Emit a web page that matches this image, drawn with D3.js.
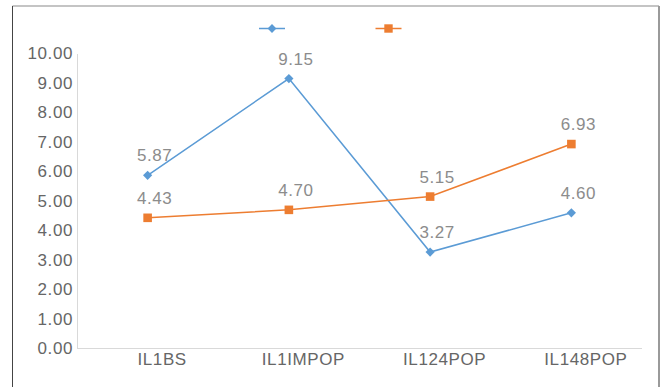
<!DOCTYPE html>
<html>
<head>
<meta charset="utf-8">
<script src="https://cdn.jsdelivr.net/npm/d3@7"></script>
<style>
  html, body { margin: 0; padding: 0; background: #fff; }
  svg { display: block; }
  text { font-family: "Liberation Sans", Arial, sans-serif; }
</style>
</head>
<body>
<svg id="chart" width="661" height="387"></svg>
<script>
// Chart data
const categories = ["IL1BS", "IL1IMPOP", "IL124POP", "IL148POP"];
const seriesA = [5.87, 9.15, 3.27, 4.60];
const seriesB = [4.43, 4.70, 5.15, 6.93];
const yTicks = [0, 1, 2, 3, 4, 5, 6, 7, 8, 9, 10];

const blue = "#5b9bd5";
const orange = "#ed7d31";

const svg = d3.select("#chart");
const W = 661, H = 387;

// Frame around the chart
svg.append("line").attr("x1", 12.5).attr("x2", 659).attr("y1", 6).attr("y2", 6)
  .attr("stroke", "#b0b0b0").attr("stroke-width", 1.5);
svg.append("line").attr("x1", 12.5).attr("x2", 12.5).attr("y1", 6).attr("y2", H)
  .attr("stroke", "#444").attr("stroke-width", 1);
svg.append("line").attr("x1", 659).attr("x2", 659).attr("y1", 6).attr("y2", H)
  .attr("stroke", "#9a9a9a").attr("stroke-width", 2);

// Plot area
const plotLeft = 77, plotRight = 642, plotTop = 53.5, plotBottom = 348.5;

const x = d3.scalePoint().domain(categories).range([plotLeft, plotRight]).padding(0.5);
const y = d3.scaleLinear().domain([0, 10]).range([plotBottom, plotTop]);

const fontSize = 17;

// Y axis
const yAxis = svg.append("g").attr("transform", `translate(${plotLeft},0)`)
  .call(d3.axisLeft(y).tickValues(yTicks).tickFormat(d3.format(".2f")).tickSize(0).tickPadding(4));
yAxis.select(".domain").attr("stroke", "#d9d9d9").attr("stroke-width", 1);
yAxis.selectAll("text").attr("font-size", fontSize).attr("fill", "#666")
  .attr("font-family", "Liberation Sans, Arial, sans-serif")
  .style("letter-spacing", "0.6px");

// X axis
const xAxis = svg.append("g").attr("transform", `translate(0,${plotBottom})`)
  .call(d3.axisBottom(x).tickSize(0).tickPadding(4));
xAxis.select(".domain").attr("stroke", "#d9d9d9").attr("stroke-width", 1.2)
  .attr("d", `M${plotLeft},0H${plotRight}`);
xAxis.selectAll("text").attr("font-size", fontSize).attr("fill", "#666")
  .attr("font-family", "Liberation Sans, Arial, sans-serif")
  .attr("dx", 14)
  .style("letter-spacing", "0.6px");

// Marker shapes
const diamondPath = (r) => `M0,${-r}L${r},0L0,${r}L${-r},0Z`;
const squarePath = (s) => `M${-s/2},${-s/2}h${s}v${s}h${-s}Z`;

const line = d3.line().x((d, i) => x(categories[i])).y(d => y(d));

function drawSeries(values, color, markerPath) {
  const g = svg.append("g");
  g.append("path").datum(values).attr("d", line)
    .attr("fill", "none").attr("stroke", color).attr("stroke-width", 1.5);
  g.selectAll("path.m").data(values).join("path").attr("class", "m")
    .attr("d", markerPath)
    .attr("transform", (d, i) => `translate(${x(categories[i])},${y(d)})`)
    .attr("fill", color);
  g.selectAll("text").data(values).join("text")
    .attr("x", (d, i) => x(categories[i]) + 7)
    .attr("y", d => y(d) - 14)
    .attr("text-anchor", "middle")
    .attr("font-size", fontSize)
    .attr("fill", "#8c8c8c")
    .style("letter-spacing", "0.6px")
    .text(d => d3.format(".2f")(d));
}

drawSeries(seriesA, blue, diamondPath(4.6));
drawSeries(seriesB, orange, squarePath(8.6));

// Legend (markers only)
const legend = [
  { color: blue, path: diamondPath(4.4), cx: 272 },
  { color: orange, path: squarePath(8.4), cx: 388.5 }
];
const ly = 28.5;
legend.forEach(l => {
  svg.append("line").attr("x1", l.cx - 13).attr("x2", l.cx + 13)
    .attr("y1", ly).attr("y2", ly).attr("stroke", l.color).attr("stroke-width", 1.5);
  svg.append("path").attr("d", l.path).attr("transform", `translate(${l.cx},${ly})`)
    .attr("fill", l.color);
});
</script>
</body>
</html>
